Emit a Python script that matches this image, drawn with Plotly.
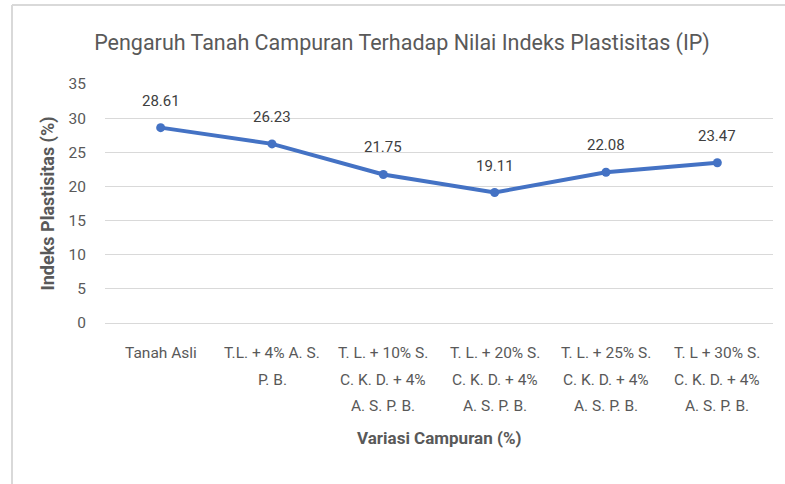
import plotly.graph_objects as go

categories = ["Tanah Asli", "T.L. + 4% A. S.<br>P. B.", "T. L. + 10% S.<br>C. K. D. + 4%<br>A. S. P. B.",
              "T. L. + 20% S.<br>C. K. D. + 4%<br>A. S. P. B.", "T. L. + 25% S.<br>C. K. D. + 4%<br>A. S. P. B.",
              "T. L + 30% S.<br>C. K. D. + 4%<br>A. S. P. B."]
ip_values = [28.61, 26.23, 21.75, 19.11, 22.08, 23.47]
y_ticks = [0, 5, 10, 15, 20, 25, 30, 35]

FONT = "Roboto, Open Sans, sans-serif"
GREY = "#595959"

x_idx = list(range(len(categories)))

W, H = 785, 484
L, R, T, B = 105, 12, 84, 161
pw = W - L - R
ph = H - T - B

fig = go.Figure()
fig.add_trace(go.Scatter(
    x=x_idx, y=ip_values, mode="lines+markers",
    line=dict(color="#4472C4", width=4),
    marker=dict(color="#4472C4", size=9),
    cliponaxis=False,
    showlegend=False,
))

annotations = []
# data labels
for i, v in zip(x_idx, ip_values):
    annotations.append(dict(x=i, y=v, xref="x", yref="y", text=f"{v:.2f}", showarrow=False,
                            yshift=27, font=dict(family=FONT, size=15, color="#404040")))
# category labels, one line at a time (Excel-like line spacing)
for i, cat in zip(x_idx, categories):
    for j, line in enumerate(cat.split("<br>")):
        annotations.append(dict(x=i, y=0, xref="x", yref="paper", text=line, showarrow=False,
                                yanchor="middle", yshift=-(30 + 26.5 * j),
                                font=dict(family=FONT, size=15.5, color=GREY)))
# axis titles
annotations.append(dict(x=0.5, y=0, xref="paper", yref="paper", text="<b>Variasi Campuran (%)</b>",
                        showarrow=False, yanchor="middle", yshift=-115,
                        font=dict(family=FONT, size=17, color=GREY)))
annotations.append(dict(x=(47 - L) / pw, y=0.5, xref="paper", yref="paper",
                        text="<b>Indeks Plastisitas (%)</b>", showarrow=False, textangle=-90,
                        xanchor="center", yanchor="middle",
                        font=dict(family=FONT, size=18, color=GREY)))

fig.update_layout(
    width=W, height=H,
    margin=dict(l=L, r=R, t=T, b=B),
    paper_bgcolor="white", plot_bgcolor="white",
    font=dict(family=FONT, color=GREY),
    title=dict(text="Pengaruh Tanah Campuran Terhadap Nilai Indeks Plastisitas (IP)",
               x=402 / W, xanchor="center", xref="container",
               y=1 - 42 / H, yanchor="middle", yref="container",
               font=dict(family=FONT, size=21.5, color=GREY)),
    xaxis=dict(range=[-0.5, len(categories) - 0.5], tickmode="array", tickvals=x_idx,
               showticklabels=False, showgrid=False, zeroline=False, showline=False,
               ticks="", automargin=False),
    yaxis=dict(range=[0, 35], tickmode="array", tickvals=y_ticks, showgrid=True,
               gridcolor="#d9d9d9", gridwidth=1, zeroline=True, zerolinecolor="#d9d9d9",
               zerolinewidth=1, showline=False, ticks="", automargin=False,
               tickfont=dict(family=FONT, size=15.5, color=GREY), ticklabelstandoff=18),
    annotations=annotations,
)

# chart frame (left and top edges visible)
fx0 = (12 - L) / pw
fy_top = 1 + (T - 5) / ph
fig.add_shape(type="line", xref="paper", yref="paper",
              x0=fx0, x1=fx0, y0=fy_top, y1=-(B + 10) / ph,
              line=dict(color="#d9d9d9", width=2))
fig.add_shape(type="line", xref="paper", yref="paper",
              x0=fx0, x1=(W + 10 - L) / pw, y0=fy_top, y1=fy_top,
              line=dict(color="#d9d9d9", width=2))

fig.write_html("out.html", config={"displayModeBar": False},
               post_script="document.body.style.margin='0';")
